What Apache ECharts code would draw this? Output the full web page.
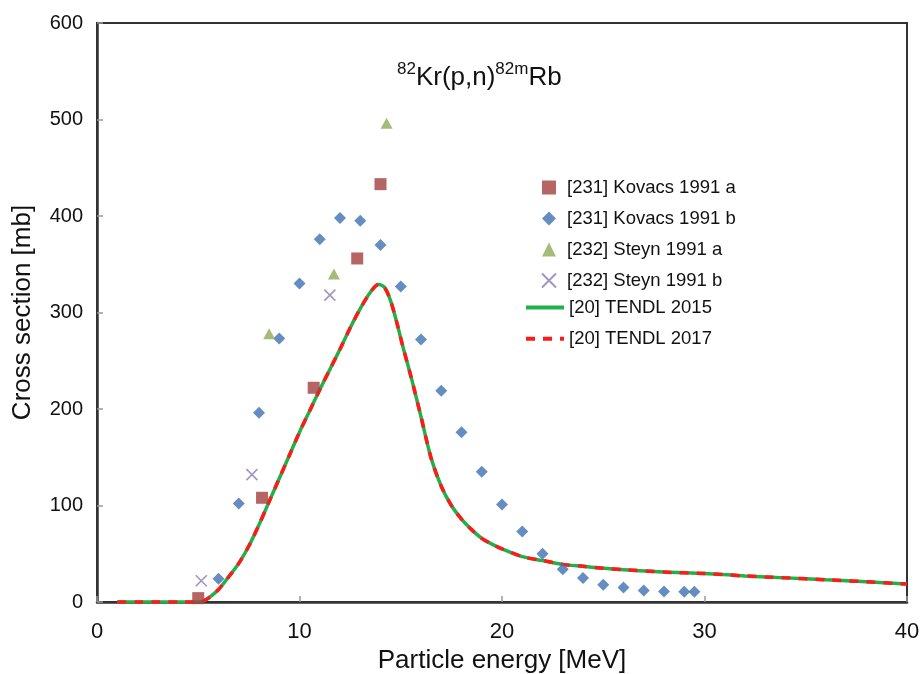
<!DOCTYPE html>
<html>
<head>
<meta charset="utf-8">
<script src="https://cdn.jsdelivr.net/npm/echarts@6/dist/echarts.min.js"></script>
<style>html,body{margin:0;padding:0;background:#fff}#c{width:920px;height:674px}</style>
</head>
<body>
<div id="c"></div>
<script>
// Data
const kovacsA = [[5.0, 4], [8.15, 108], [10.7, 222], [12.85, 356], [14.0, 433]];
const kovacsB = [[6, 24], [7, 102], [8, 196], [9, 273], [10, 330], [11, 376], [12, 398], [13, 395],
  [14, 370], [15, 327], [16, 272], [17, 219], [18, 176], [19, 135], [20, 101], [21, 73], [22, 50],
  [23, 34], [24, 25], [25, 18], [26, 15], [27, 12], [28, 11], [29, 10.5], [29.5, 10.5]];
const steynA = [[8.5, 278], [11.7, 340], [14.3, 496]];
const steynB = [[5.15, 22], [7.65, 132], [11.5, 318]];
const tendlE = [1, 2, 3, 4, 5, 5.25, 5.5, 6, 6.5, 7, 7.5, 8, 8.5, 9, 9.5, 10, 10.5, 11, 11.5, 12, 12.5, 13,
  13.5, 13.9, 14.2, 14.5, 14.8, 15.1, 15.5, 16, 16.5, 17, 17.5, 18, 18.5, 19, 19.5, 20, 21, 22, 23, 24,
  25, 26, 28, 30, 32, 34, 36, 38, 40];
const tendl2015 = [0, 0, 0, 0, 0, 1, 4, 13, 26, 40, 58, 80, 104, 128, 152, 176, 198, 220, 241, 262, 284, 304,
  321, 329, 326, 312, 290, 265, 234, 192, 149, 120, 100, 86, 75, 66, 60, 55, 47, 43, 39, 37,
  35, 33.5, 31, 29.5, 27, 25, 23, 21, 18.6];
const tendl2017 = tendl2015.slice();
const xTicks = [0, 10, 20, 30, 40];
const yTicks = [0, 100, 200, 300, 400, 500, 600];

const font = 'Liberation Sans, Arial, sans-serif';
const chart = echarts.init(document.getElementById('c'), null, {renderer: 'canvas'});
const pair = (xs, ys) => xs.map((x, i) => [x, ys[i]]);

chart.setOption({
  animation: false,
  backgroundColor: '#fff',
  title: {
    text: '{sup|82}{b|Kr(p,n)}{sup|82m}{b|Rb}',
    left: 392, top: 56,
    textStyle: {
      rich: {
        b: {fontFamily: font, fontSize: 26, fontWeight: 'normal', color: '#111', verticalAlign: 'bottom', lineHeight: 30},
        sup: {fontFamily: font, fontSize: 17, fontWeight: 'normal', color: '#111', verticalAlign: 'top', lineHeight: 30, padding: [0, 0, 12, 0]}
      }
    }
  },
  grid: {left: 97, right: 13, top: 23, bottom: 72, show: true, borderColor: '#333', borderWidth: 2,
    containLabel: false, outerBoundsMode: 'none'},
  legend: [
    {
      orient: 'vertical', left: 536, top: 173, itemWidth: 14, itemHeight: 14, itemGap: 12,
      textStyle: {fontFamily: font, fontSize: 18.5, color: '#111', padding: [0, 0, 0, 6]},
      data: ['[231] Kovacs 1991 a', '[231] Kovacs 1991 b', '[232] Steyn 1991 a', '[232] Steyn 1991 b']
    },
    {
      orient: 'vertical', left: 519, top: 293, itemWidth: 38, itemHeight: 14, itemGap: 12.3,
      itemStyle: {opacity: 0},
      lineStyle: {width: 4},
      textStyle: {fontFamily: font, fontSize: 18.5, color: '#111'},
      data: ['[20] TENDL 2015', '[20] TENDL 2017']
    }
  ],
  xAxis: {
    type: 'value', min: 0, max: 40, interval: 10,
    name: 'Particle energy [MeV]', nameLocation: 'middle', nameGap: 45,
    nameTextStyle: {fontFamily: font, fontSize: 26, color: '#111'},
    axisLine: {show: true, lineStyle: {color: '#333', width: 2.5}},
    axisTick: {show: true, inside: true, length: 6, lineStyle: {color: '#999', width: 1.5}},
    axisLabel: {fontFamily: font, fontSize: 22, color: '#111', margin: 19,
      formatter: v => xTicks.includes(v) ? String(v) : ''},
    splitLine: {show: false}
  },
  yAxis: {
    type: 'value', min: 0, max: 600, interval: 100,
    name: 'Cross section [mb]', nameLocation: 'middle', nameGap: 61,
    nameTextStyle: {fontFamily: font, fontSize: 26, color: '#111'},
    axisLine: {show: true, lineStyle: {color: '#333', width: 2.5}},
    axisTick: {show: true, inside: true, length: 6, lineStyle: {color: '#999', width: 1.5}},
    axisLabel: {fontFamily: font, fontSize: 20, color: '#111', margin: 14,
      formatter: v => yTicks.includes(v) ? String(v) : ''},
    splitLine: {show: false}
  },
  series: [
    {
      name: '[20] TENDL 2015', type: 'line', data: pair(tendlE, tendl2015), smooth: 0.3,
      symbol: 'none', z: 3, color: '#22B04A',
      lineStyle: {color: '#22B04A', width: 3.5, type: 'solid'}
    },
    {
      name: '[20] TENDL 2017', type: 'line', data: pair(tendlE, tendl2017), smooth: 0.3,
      symbol: 'none', z: 4, color: '#FF1A1A',
      lineStyle: {color: '#FF1A1A', width: 3.5, type: [9, 8]}
    },
    {
      name: '[231] Kovacs 1991 a', type: 'scatter', data: kovacsA, symbol: 'rect', symbolSize: 12, z: 5,
      itemStyle: {color: '#A3403D'}
    },
    {
      name: '[231] Kovacs 1991 b', type: 'scatter', data: kovacsB, symbol: 'diamond', symbolSize: [12, 12], z: 5,
      itemStyle: {color: '#4070B2'}
    },
    {
      name: '[232] Steyn 1991 a', type: 'scatter', data: steynA, symbol: 'triangle', symbolSize: [12, 11], z: 5,
      itemStyle: {color: '#8EAA58'}
    },
    {
      name: '[232] Steyn 1991 b', type: 'scatter', data: steynB, symbol: 'path://M0,0L10,10M10,0L0,10', symbolSize: 11, z: 5,
      itemStyle: {color: 'rgba(0,0,0,0)', borderColor: '#8A7CB2', borderWidth: 1.6}
    }
  ]
});
</script>
</body>
</html>
